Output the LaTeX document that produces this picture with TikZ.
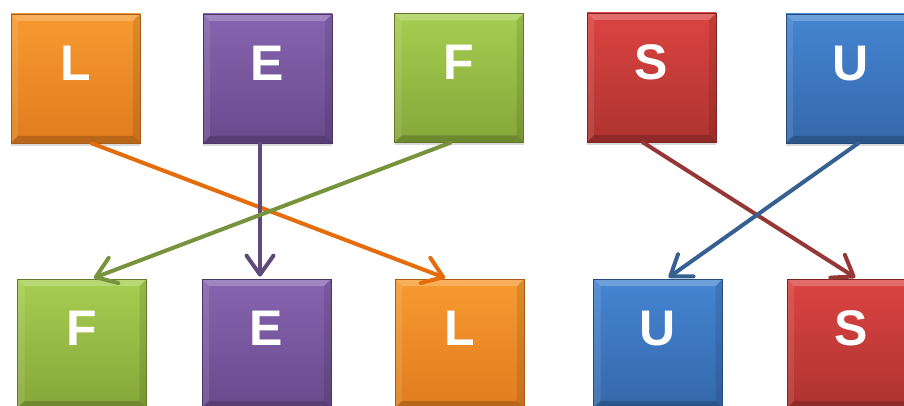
\documentclass[tikz,border=0pt]{standalone}
\usepackage{fontspec}
\setmainfont{Liberation Sans}
\usetikzlibrary{arrows.meta,shadows}
\definecolor{orT}{HTML}{F89A30}\definecolor{orB}{HTML}{E07C1E}\definecolor{orD}{HTML}{A95C16}
\definecolor{puT}{HTML}{8764B0}\definecolor{puB}{HTML}{684A8C}\definecolor{puD}{HTML}{4C3668}
\definecolor{grT}{HTML}{A6CE50}\definecolor{grB}{HTML}{86A63A}\definecolor{grD}{HTML}{627A2A}
\definecolor{reT}{HTML}{DB4441}\definecolor{reB}{HTML}{AD3330}\definecolor{reD}{HTML}{7E2422}
\definecolor{blT}{HTML}{4585D2}\definecolor{blB}{HTML}{3568AA}\definecolor{blD}{HTML}{264C7E}
\definecolor{arOr}{HTML}{E46C0A}\definecolor{arPu}{HTML}{604A7B}\definecolor{arGr}{HTML}{77933C}
\definecolor{arRe}{HTML}{953735}\definecolor{arBl}{HTML}{376092}
\tikzset{
  letterbox/.style n args={3}{minimum width=129pt, minimum height=129pt, inner sep=0pt,
    top color=#1, bottom color=#2, draw=#3, line width=0.8pt,
    drop shadow={opacity=0.3, shadow xshift=0pt, shadow yshift=-3pt},
    text=white, font=\fontsize{50}{50}\selectfont\bfseries,
    text height=36pt, text depth=32pt,
    path picture={
      \def\pb{path picture bounding box}
      \fill[white,opacity=0.22] (\pb.north west) -- (\pb.north east) -- ([xshift=-7pt,yshift=-7pt]\pb.north east) -- ([xshift=7pt,yshift=-7pt]\pb.north west) -- cycle;
      \fill[white,opacity=0.10] (\pb.north west) -- ([xshift=7pt,yshift=-7pt]\pb.north west) -- ([xshift=7pt,yshift=7pt]\pb.south west) -- (\pb.south west) -- cycle;
      \fill[black,opacity=0.10] (\pb.north east) -- ([xshift=-7pt,yshift=-7pt]\pb.north east) -- ([xshift=-7pt,yshift=7pt]\pb.south east) -- (\pb.south east) -- cycle;
      \fill[black,opacity=0.18] (\pb.south west) -- ([xshift=7pt,yshift=7pt]\pb.south west) -- ([xshift=-7pt,yshift=7pt]\pb.south east) -- (\pb.south east) -- cycle;
    }},
  orbox/.style={letterbox={orT}{orB}{orD}},
  pubox/.style={letterbox={puT}{puB}{puD}},
  grbox/.style={letterbox={grT}{grB}{grD}},
  rebox/.style={letterbox={reT}{reB}{reD}},
  blbox/.style={letterbox={blT}{blB}{blD}},
  link/.style={line width=4pt, line cap=round, line join=round,
    -{Straight Barb[length=19pt,width=27pt,line width=4pt,round]}, shorten >=2pt}
}
\begin{document}
\begin{tikzpicture}[x=1pt,y=-1pt]
\useasboundingbox (0,0) rectangle (904,406);
% top row
\node[orbox] (L1) at (75.5,78.5) {L};
\node[pubox] (E1) at (267.5,78.5) {E};
\node[grbox] (F1) at (459,78) {F};
\node[rebox] (S1) at (651.5,77.5) {S};
\node[blbox] (U1) at (850.5,78.5) {U};
% bottom row
\node[grbox] (F2) at (82,343.5) {F};
\node[pubox] (E2) at (266.5,343.5) {E};
\node[orbox] (L2) at (459.5,343.5) {L};
\node[blbox] (U2) at (658,343.5) {U};
\node[rebox] (S2) at (851.5,343.5) {S};
% connectors
\draw[link,arOr] ([xshift=16.5pt]L1.south) -- ([xshift=-12.5pt]L2.north);
\draw[link,arPu] ([xshift=-7.5pt]E1.south) -- ([xshift=-6.5pt]E2.north);
\draw[link,arGr] ([xshift=-9pt]F1.south) -- ([xshift=10pt]F2.north);
\draw[link,arRe] ([xshift=-8.5pt]S1.south) -- ([xshift=5.5pt]S2.north);
\draw[link,arBl] ([xshift=7.5pt]U1.south) -- ([xshift=9pt]U2.north);
\end{tikzpicture}
\end{document}
